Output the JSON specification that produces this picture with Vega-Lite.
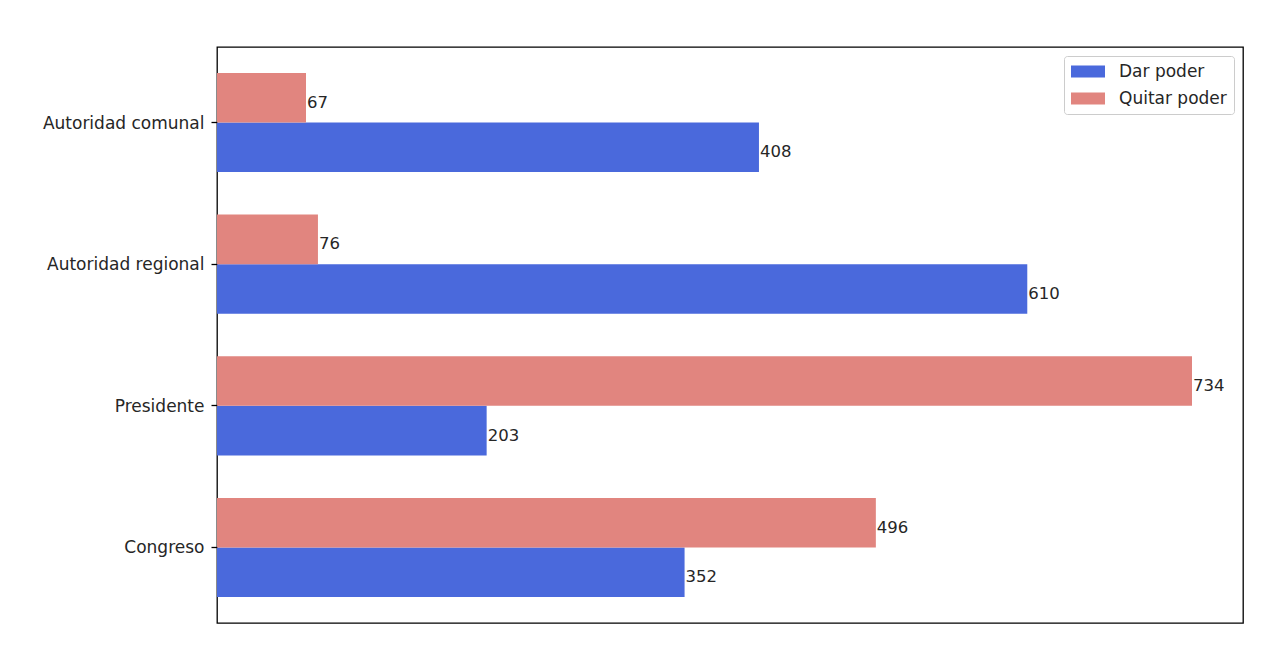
{
  "$schema": "https://vega.github.io/schema/vega-lite/v6.json",
  "description": "Horizontal grouped bars: Dar poder vs Quitar poder by authority.",
  "width": 1026,
  "height": 576,
  "autosize": "none",
  "padding": {"left": 217, "top": 47, "right": 35, "bottom": 35},
  "background": "white",
  "data": {
    "values": [
      {"Autoridad": "Autoridad comunal", "Grupo": "Dar poder", "Votos": 408},
      {"Autoridad": "Autoridad comunal", "Grupo": "Quitar poder", "Votos": 67},
      {"Autoridad": "Autoridad regional", "Grupo": "Dar poder", "Votos": 610},
      {"Autoridad": "Autoridad regional", "Grupo": "Quitar poder", "Votos": 76},
      {"Autoridad": "Presidente", "Grupo": "Dar poder", "Votos": 203},
      {"Autoridad": "Presidente", "Grupo": "Quitar poder", "Votos": 734},
      {"Autoridad": "Congreso", "Grupo": "Dar poder", "Votos": 352},
      {"Autoridad": "Congreso", "Grupo": "Quitar poder", "Votos": 496}
    ]
  },
  "encoding": {
    "y": {
      "field": "Autoridad",
      "type": "nominal",
      "sort": ["Autoridad comunal", "Autoridad regional", "Presidente", "Congreso"],
      "scale": {"paddingInner": 0.3, "paddingOuter": 0.183},
      "axis": {
        "title": null,
        "domain": false,
        "ticks": true,
        "tickSize": 6,
        "tickWidth": 1.3,
        "tickColor": "black",
        "labelPadding": 7,
        "labelFont": "DejaVu Sans",
        "labelFontSize": 17,
        "labelColor": "#262626",
        "labelBaseline": "middle",
        "labelOffset": 1
      }
    },
    "yOffset": {
      "field": "Grupo",
      "type": "nominal",
      "sort": ["Quitar poder", "Dar poder"],
      "scale": {"paddingInner": 0, "paddingOuter": 0}
    },
    "x": {
      "field": "Votos",
      "type": "quantitative",
      "scale": {"domain": [0, 772.4], "nice": false, "zero": true},
      "axis": null
    }
  },
  "layer": [
    {
      "mark": {"type": "bar", "cornerRadius": 0},
      "encoding": {
        "color": {
          "field": "Grupo",
          "type": "nominal",
          "sort": ["Dar poder", "Quitar poder"],
          "scale": {"domain": ["Dar poder", "Quitar poder"], "range": ["#4a69dc", "#e1857f"]},
          "legend": {
            "title": null,
            "orient": "none",
            "legendX": 847,
            "legendY": 9,
            "padding": 7,
            "rowPadding": 9,
            "strokeColor": "#cccccc",
            "fillColor": "white",
            "cornerRadius": 3,
            "symbolType": "M-1,-0.7H3V0.7H-1Z",
            "symbolSize": 289,
            "symbolStrokeWidth": 0,
            "symbolOpacity": 1,
            "labelOffset": 31,
            "labelFont": "DejaVu Sans",
            "labelFontSize": 17,
            "labelColor": "#262626"
          }
        }
      }
    },
    {
      "mark": {
        "type": "text",
        "align": "left",
        "baseline": "middle",
        "dx": 1,
        "dy": 5,
        "font": "DejaVu Sans",
        "fontSize": 16.5,
        "color": "#262626"
      },
      "encoding": {
        "text": {"field": "Votos", "type": "quantitative"}
      }
    }
  ],
  "config": {
    "view": {"stroke": "black", "strokeWidth": 1.3}
  }
}
